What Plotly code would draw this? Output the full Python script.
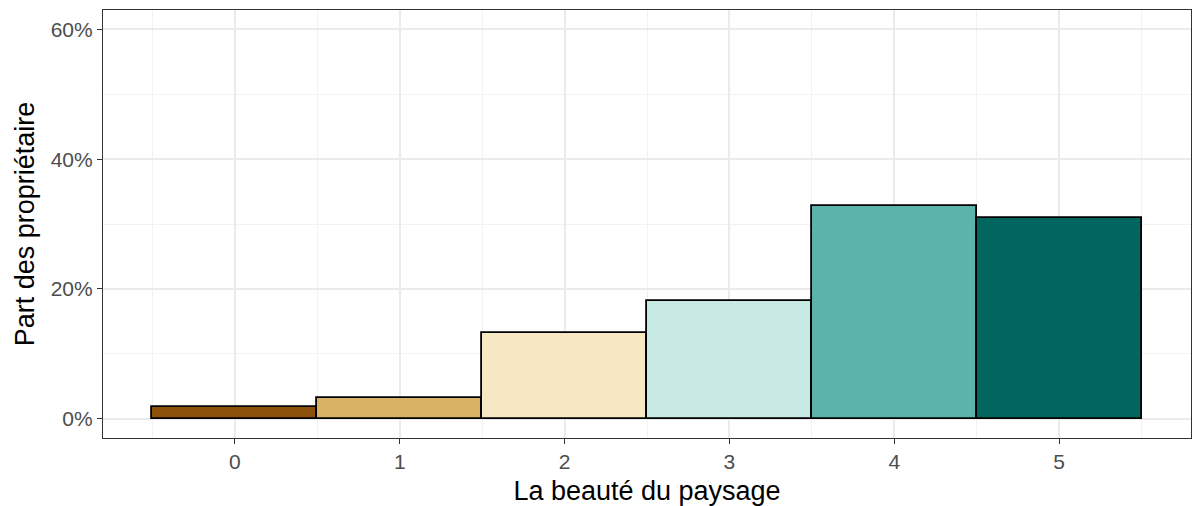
import plotly.graph_objects as go

# beauty score and share of owners (%)
scores = [0, 1, 2, 3, 4, 5]
shares = [1.85, 3.2, 13.2, 18.2, 32.8, 31.0]
colors = ["#8C510A", "#D8B365", "#F6E8C3", "#C7EAE5", "#5AB4AC", "#01665E"]
y_ticks = [0, 20, 40, 60]
y_labels = ["0%", "20%", "40%", "60%"]

fig = go.Figure()
fig.add_bar(
    x=scores, y=shares, width=1,
    marker=dict(color=colors, line=dict(color="black", width=1.8)),
    hoverinfo="x+y",
)

axis_font = dict(family="Liberation Sans, Arial", size=21, color="#4D4D4D")
title_font = dict(family="Liberation Sans, Arial", size=27, color="black")

fig.update_xaxes(
    range=[-0.8, 5.8], tickvals=scores, tickfont=axis_font,
    title=dict(text="La beauté du paysage", font=title_font, standoff=8),
    showgrid=True, gridcolor="#EBEBEB", gridwidth=1.5,
    minor=dict(dtick=1, tick0=0.5, showgrid=True, gridcolor="#F2F2F2", gridwidth=0.8),
    ticks="outside", ticklen=5, tickcolor="#333333", tickwidth=1.2,
    showline=True, linecolor="#333333", linewidth=1.2, mirror=True,
    zeroline=False, automargin=False,
)
fig.update_yaxes(
    range=[-3, 63], tickvals=y_ticks, ticktext=y_labels, tickfont=axis_font,
    title=dict(text="Part des propriétaire", font=title_font, standoff=8),
    showgrid=True, gridcolor="#EBEBEB", gridwidth=1.5,
    minor=dict(dtick=20, tick0=10, showgrid=True, gridcolor="#F2F2F2", gridwidth=0.8),
    ticks="outside", ticklen=5, tickcolor="#333333", tickwidth=1.2,
    showline=True, linecolor="#333333", linewidth=1.2, mirror=True,
    zeroline=False, automargin=False,
)

fig.update_layout(
    width=1192, height=506,
    margin=dict(l=103, r=1, t=10, b=68),
    plot_bgcolor="white", paper_bgcolor="white",
    showlegend=False, bargap=0,
)

# drop the default page margin so the figure sits at the window's corner
fig.write_html("out.html", config={"displayModeBar": False},
               post_script="document.body.style.margin='0';")
